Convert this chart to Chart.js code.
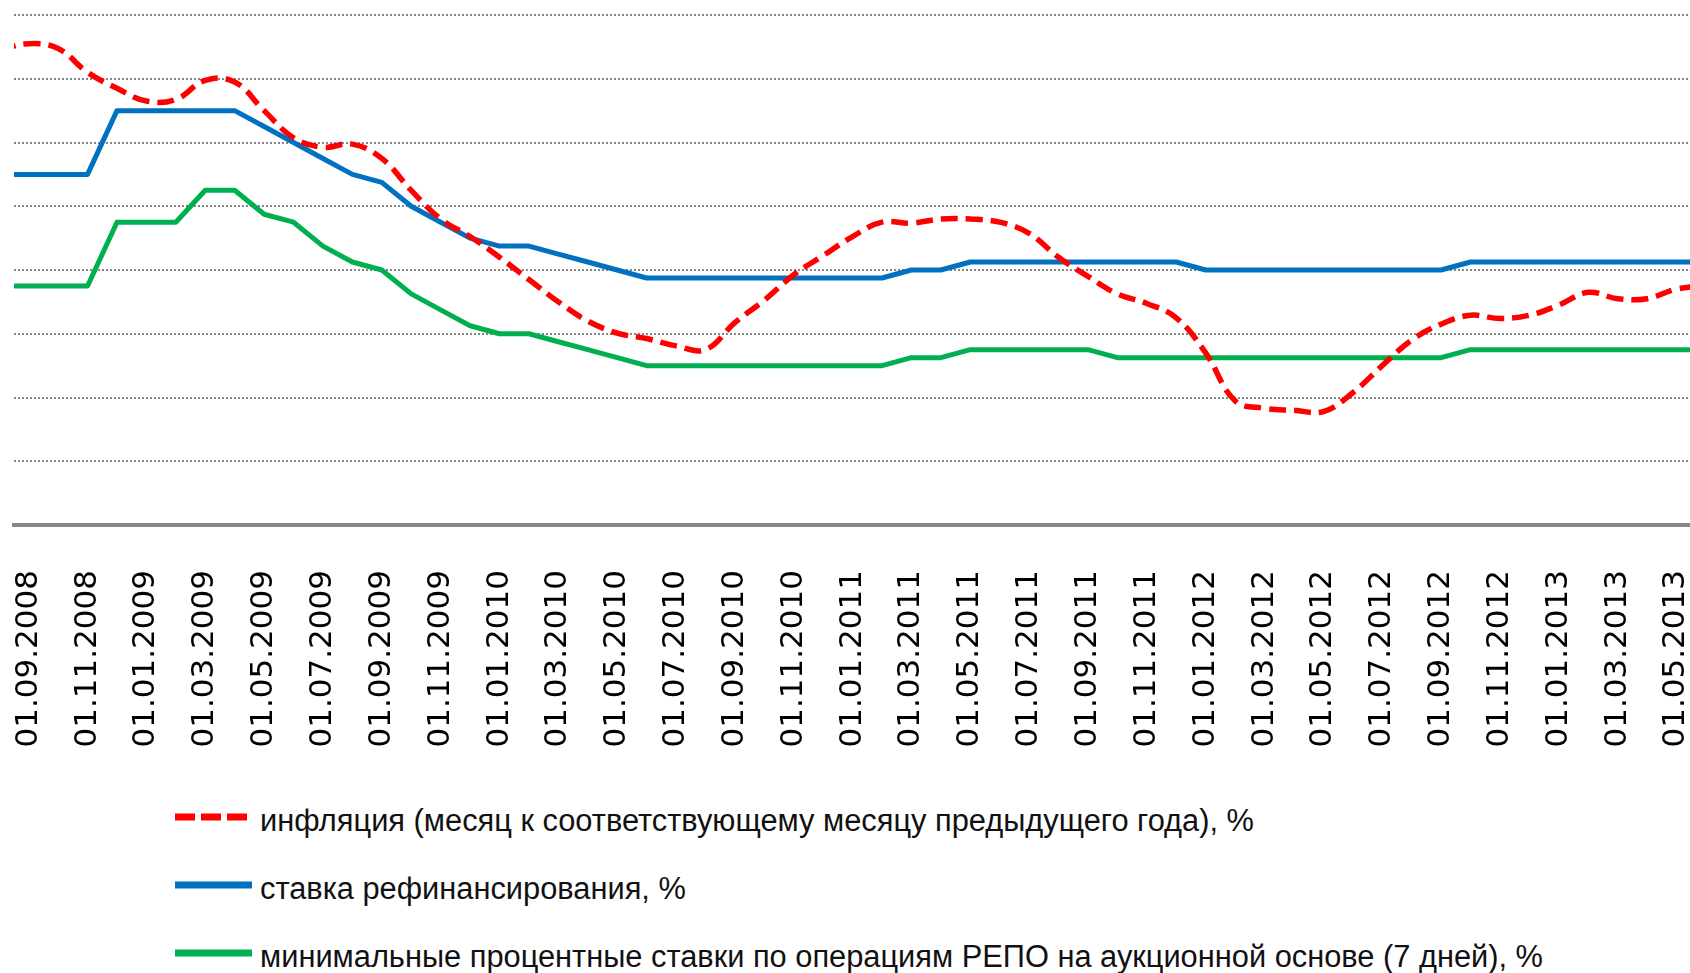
<!DOCTYPE html>
<html>
<head>
<meta charset="utf-8">
<script src="https://cdn.jsdelivr.net/npm/chart.js@4.4.1/dist/chart.umd.min.js"></script>
<style>
html, body { margin: 0; padding: 0; background: #fff; overflow: hidden; width: 1690px; height: 973px; }
#wrap { position: absolute; left: 0; top: 0; width: 1760px; height: 760px; }
#legend { position: absolute; left: 175px; top: 787px; font-family: "Liberation Sans", Arial, sans-serif; font-size: 30.8px; color: #111; }
.row { display: flex; align-items: center; height: 68px; white-space: nowrap; }
.row svg { margin-right: 8px; position: relative; top: -4px; }
</style>
</head>
<body>
<div id="wrap"><canvas id="chart"></canvas></div>
<div id="legend"></div>
<script>
// месяцы (первый, 01.08.2008, за левым краем области графика)
const months = [
  '01.08.2008', '01.09.2008', '01.10.2008', '01.11.2008', '01.12.2008',
  '01.01.2009', '01.02.2009', '01.03.2009', '01.04.2009', '01.05.2009', '01.06.2009',
  '01.07.2009', '01.08.2009', '01.09.2009', '01.10.2009', '01.11.2009', '01.12.2009',
  '01.01.2010', '01.02.2010', '01.03.2010', '01.04.2010', '01.05.2010', '01.06.2010',
  '01.07.2010', '01.08.2010', '01.09.2010', '01.10.2010', '01.11.2010', '01.12.2010',
  '01.01.2011', '01.02.2011', '01.03.2011', '01.04.2011', '01.05.2011', '01.06.2011',
  '01.07.2011', '01.08.2011', '01.09.2011', '01.10.2011', '01.11.2011', '01.12.2011',
  '01.01.2012', '01.02.2012', '01.03.2012', '01.04.2012', '01.05.2012', '01.06.2012',
  '01.07.2012', '01.08.2012', '01.09.2012', '01.10.2012', '01.11.2012', '01.12.2012',
  '01.01.2013', '01.02.2013', '01.03.2013', '01.04.2013', '01.05.2013', '01.06.2013',
  '01.07.2013'
];

// инфляция, %
const inflation = [
  14.9, 15.1, 14.95, 14.2, 13.7,
  13.3, 13.35, 13.95, 13.9, 13.0, 12.15,
  11.85, 11.95, 11.5, 10.5, 9.6, 9.05,
  8.4, 7.7, 7.0, 6.4, 6.02, 5.85,
  5.62, 5.5, 6.35, 7.05, 7.85, 8.45,
  9.05, 9.5, 9.47, 9.6, 9.6, 9.5,
  9.15, 8.4, 7.8, 7.25, 6.95, 6.5,
  5.4, 3.9, 3.66, 3.6, 3.56, 4.15,
  5.0, 5.8, 6.3, 6.58, 6.48, 6.58,
  6.9, 7.3, 7.1, 7.1, 7.4, 7.5,
  7.6
];

// ставка рефинансирования, %
const refinRate = [
  11, 11, 11, 11, 13,
  13, 13, 13, 13, 12.5, 12,
  11.5, 11, 10.75, 10, 9.5, 9,
  8.75, 8.75, 8.5, 8.25, 8, 7.75,
  7.75, 7.75, 7.75, 7.75, 7.75, 7.75,
  7.75, 7.75, 8, 8, 8.25, 8.25,
  8.25, 8.25, 8.25, 8.25, 8.25, 8.25,
  8, 8, 8, 8, 8, 8,
  8, 8, 8, 8.25, 8.25, 8.25,
  8.25, 8.25, 8.25, 8.25, 8.25, 8.25,
  8.25
];

// минимальные ставки РЕПО, %
const repoRate = [
  7.5, 7.5, 7.5, 7.5, 9.5,
  9.5, 9.5, 10.5, 10.5, 9.75, 9.5,
  8.75, 8.25, 8.0, 7.25, 6.75, 6.25,
  6.0, 6.0, 5.75, 5.5, 5.25, 5.0,
  5.0, 5.0, 5.0, 5.0, 5.0, 5.0,
  5.0, 5.0, 5.25, 5.25, 5.5, 5.5,
  5.5, 5.5, 5.5, 5.25, 5.25, 5.25,
  5.25, 5.25, 5.25, 5.25, 5.25, 5.25,
  5.25, 5.25, 5.25, 5.5, 5.5, 5.5,
  5.5, 5.5, 5.5, 5.5, 5.5, 5.5,
  5.5
];

const seriesNames = [
  'инфляция (месяц к соответствующему месяцу предыдущего года), %',
  'ставка рефинансирования, %',
  'минимальные процентные ставки по операциям РЕПО на аукционной основе (7 дней), %'
];

const chart = new Chart(document.getElementById('chart'), {
  type: 'line',
  data: {
    labels: months,
    datasets: [
      {
        label: seriesNames[0],
        data: inflation,
        borderColor: '#ff0000',
        borderWidth: 5.5,
        borderDash: [17, 8],
        tension: 0.4,
        pointRadius: 0
      },
      {
        label: seriesNames[1],
        data: refinRate,
        borderColor: '#0070c0',
        borderWidth: 5,
        borderJoinStyle: 'round',
        tension: 0,
        pointRadius: 0
      },
      {
        label: seriesNames[2],
        data: repoRate,
        borderColor: '#00b050',
        borderWidth: 5,
        borderJoinStyle: 'round',
        tension: 0,
        pointRadius: 0
      }
    ]
  },
  options: {
    responsive: true,
    maintainAspectRatio: false,
    animation: false,
    events: [],
    layout: { padding: { left: 14, right: 10, top: 15, bottom: 0 } },
    plugins: {
      legend: { display: false },
      tooltip: { enabled: false }
    },
    scales: {
      x: {
        type: 'category',
        min: '01.09.2008',
        offset: true,
        grid: { drawOnChartArea: false, drawTicks: false },
        border: { display: true, color: '#878787', width: 4 },
        ticks: {
          autoSkip: false,
          minRotation: 90,
          maxRotation: 90,
          padding: 45,
          color: '#000',
          font: { family: 'DejaVu Sans', size: 31 },
          callback: function (value, index) {
            return index % 2 === 0 ? this.getLabelForValue(value) : '';
          }
        },
        afterFit: function (scale) {
          scale.height = 235;
          scale.paddingLeft = 0;
          scale.paddingRight = 0;
        }
      },
      y: {
        min: 0,
        max: 16,
        ticks: { display: false, stepSize: 2 },
        grid: {
          drawTicks: false,
          lineWidth: 2,
          color: (ctx) => ctx.tick && ctx.tick.value === 0 ? 'rgba(0,0,0,0)' : '#858585'
        },
        border: { display: false, dash: [2, 2] },
        afterFit: function (scale) {
          scale.paddingTop = 0;
          scale.paddingBottom = 0;
        }
      }
    }
  }
});

// легенда
const legendBox = document.getElementById('legend');
chart.data.datasets.forEach(ds => {
  const row = document.createElement('div');
  row.className = 'row';
  const dash = ds.borderDash ? ' stroke-dasharray="20 6"' : '';
  row.innerHTML = '<svg width="77" height="14"><line x1="0" y1="7" x2="77" y2="7" stroke="' +
    ds.borderColor + '" stroke-width="7"' + dash + '/></svg><span>' + ds.label + '</span>';
  legendBox.appendChild(row);
});
</script>
</body>
</html>
